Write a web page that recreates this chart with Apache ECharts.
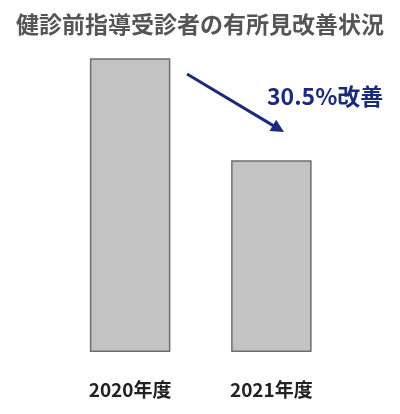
<!DOCTYPE html>
<html><head><meta charset="utf-8">
<script src="https://cdn.jsdelivr.net/npm/echarts@6/dist/echarts.min.js"></script>
<style>html,body{margin:0;padding:0;background:#fff}#c{width:400px;height:414px}</style>
</head><body><div id="c"></div>
<script>
const categories = ['2020年度', '2021年度'];
const values = [100, 65.3];
const titleText = '健診前指導受診者の有所見改善状況';
const noteText = '30.5%改善';

const FONT = '"Noto Sans CJK JP", "Noto Sans", sans-serif';
const chart = echarts.init(document.getElementById('c'), null, {renderer: 'canvas'});

// arrow geometry
const tail = [187, 74], tip = [284, 132];
const dx = tip[0] - tail[0], dy = tip[1] - tail[1];
const L = Math.hypot(dx, dy), ux = dx / L, uy = dy / L;
const hl = 13, hw = 6.5;
const bx = tip[0] - hl * ux, by = tip[1] - hl * uy;
const px = -uy, py = ux;

chart.setOption({
  animation: false,
  title: {
    text: titleText, left: 'center', top: 8,
    textStyle: {fontFamily: FONT, fontSize: 23, fontWeight: 'bold', color: '#555555'}
  },
  grid: {left: 59.5, right: 58, top: 58.3, bottom: 62},
  xAxis: {
    type: 'category', data: categories,
    axisLine: {show: false}, axisTick: {show: false},
    axisLabel: {margin: 28, fontFamily: FONT, fontSize: 19, fontWeight: 'bold', color: '#222222'}
  },
  yAxis: {type: 'value', min: 0, max: 100, show: false, splitLine: {show: false}},
  series: [{
    type: 'bar', data: values, barWidth: '57%',
    itemStyle: {color: '#c3c3c3', borderColor: '#6e6e6e', borderWidth: 1.5}
  }],
  graphic: [
    {type: 'line', shape: {x1: tail[0], y1: tail[1], x2: bx + ux, y2: by + uy},
     style: {stroke: '#1b2a7b', lineWidth: 3}},
    {type: 'polygon', shape: {points: [[tip[0], tip[1]], [bx + hw * px, by + hw * py], [bx - hw * px, by - hw * py]]},
     style: {fill: '#1b2a7b'}},
    {type: 'text', left: 267, top: 85,
     style: {text: noteText, fontFamily: FONT, fontSize: 23, fontWeight: 'bold', fill: '#1b2a7b'}}
  ]
});
</script></body></html>
